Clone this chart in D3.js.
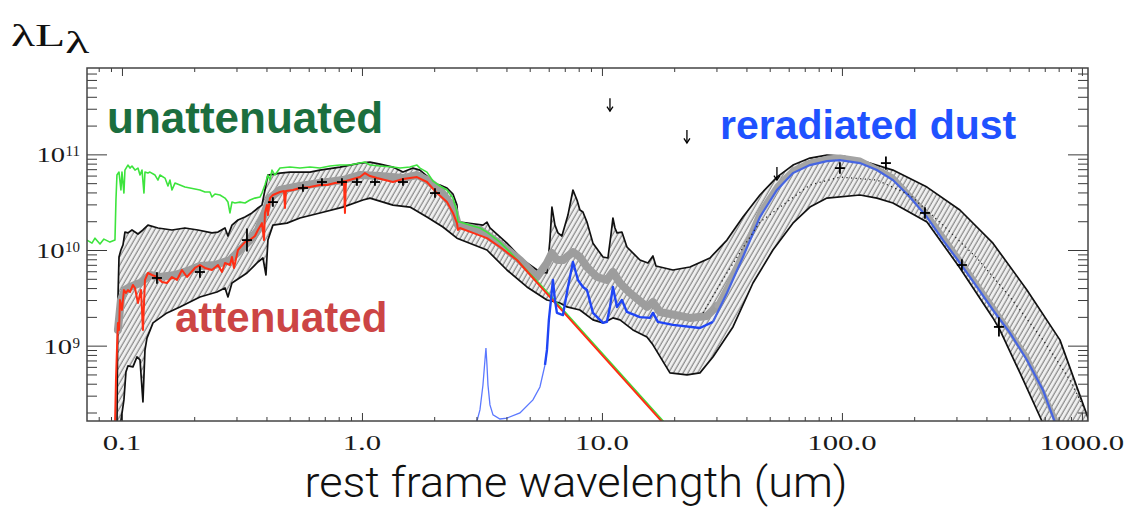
<!DOCTYPE html>
<html>
<head>
<meta charset="utf-8">
<script src="https://cdn.jsdelivr.net/npm/d3@7"></script>
<style>
  html, body { margin: 0; padding: 0; background: #fff; }
  svg { display: block; }
</style>
</head>
<body>
<svg id="chart" width="1125" height="509"></svg>
<script>
// ---- Spectral energy distribution: wavelength (um), lambda*L_lambda ----

// intrinsic (unattenuated) stellar spectrum
const unattenuated = [
  [0.0715,1.27e10],[0.0750,1.18e10],[0.0772,1.33e10],[0.0810,1.155e10],[0.0841,1.30e10],[0.0891,1.21e10],
  [0.0935,1.27e10],[0.0944,3.33e10],[0.0953,6.08e10],[0.0972,6.53e10],[0.0990,4.24e10],[0.1,6.53e10],
  [0.1019,3.94e10],[0.1029,6.85e10],[0.1059,7.73e10],[0.1080,7.19e10],[0.1101,7.55e10],[0.1133,6.85e10],
  [0.1166,7.19e10],[0.1189,6.08e10],[0.1212,6.85e10],[0.1235,3.94e10],[0.1247,6.53e10],[0.1283,6.38e10],
  [0.1308,6.53e10],[0.1373,6.08e10],[0.1413,5.39e10],[0.1440,6.08e10],[0.1511,5.65e10],[0.1555,4.67e10],
  [0.1585,5.39e10],[0.1616,4.24e10],[0.1663,5.01e10],[0.1744,4.78e10],[0.1830,4.55e10],[0.1920,4.45e10],
  [0.2014,4.34e10],[0.2113,4.24e10],[0.2217,4.04e10],[0.2326,4.04e10],[0.2371,3.58e10],[0.2441,3.85e10],
  [0.2560,3.76e10],[0.2687,3.49e10],[0.2765,3.17e10],[0.2818,2.44e10],[0.2873,3.17e10],[0.2957,3.10e10],
  [0.3102,3.17e10],[0.3255,3.10e10],[0.3415,3.33e10],[0.3581,3.49e10],[0.3758,3.58e10],[0.3831,3.94e10],
  [0.3942,4.78e10],[0.4057,6.08e10],[0.4137,5.39e10],[0.4217,6.85e10],[0.4340,6.08e10],[0.4553,7.19e10],
  [0.5012,7.37e10],[0.5516,7.19e10],[0.6072,7.37e10],[0.6683,7.19e10],[0.7356,7.55e10],[0.8096,7.73e10],
  [0.8913,7.73e10],[0.9810,8.11e10],[1.029,8.31e10],[1.080,7.73e10],[1.189,7.55e10],[1.346,7.37e10],
  [1.440,7.19e10],[1.585,7.37e10],[1.695,7.73e10],[1.745,7.19e10],[1.866,6.53e10],[1.976,5.26e10],
  [2.113,4.67e10],[2.261,4.24e10],[2.394,3.49e10],[2.488,2.50e10],[2.512,1.96e10],[2.561,1.96e10],
  [2.901,1.78e10],[3.102,1.70e10],[3.318,1.54e10],[3.758,1.21e10],[4.137,9.53e9],[4.553,7.31e9],
  [5.516,4.41e9],[25.61,6.09e7]
];

// attenuated stellar spectrum
const attenuated = [
  [0.0935,1.4e8],[0.0944,4.38e8],[0.0953,9.02e8],[0.0962,1.73e9],[0.0972,1.46e9],[0.0981,3.0e9],
  [0.1,2.36e9],[0.1019,3.82e9],[0.1039,3.55e9],[0.1059,3.82e9],[0.1080,3.64e9],[0.1111,4.31e9],
  [0.1133,4.01e9],[0.1166,2.79e9],[0.1200,3.82e9],[0.1223,1.46e9],[0.1247,4.86e9],[0.1283,5.75e9],
  [0.1334,5.48e9],[0.1399,5.22e9],[0.1468,4.63e9],[0.1540,4.52e9],[0.1616,5.22e9],[0.1695,4.86e9],
  [0.1778,6.18e9],[0.1866,5.22e9],[0.2014,6.49e9],[0.2113,6.97e9],[0.2217,6.49e9],[0.2371,6.18e9],
  [0.2512,6.97e9],[0.2610,5.89e9],[0.2687,7.31e9],[0.2818,6.97e9],[0.2873,8.45e9],[0.2929,6.49e9],
  [0.3043,1.0e10],[0.3255,1.21e10],[0.3415,1.27e10],[0.3581,1.40e10],[0.3686,1.62e10],[0.3831,1.91e10],
  [0.3907,1.27e10],[0.3942,2.44e10],[0.4019,2.95e10],[0.4057,2.32e10],[0.4137,3.49e10],[0.4256,3.76e10],
  [0.4553,4.04e10],[0.4732,4.14e10],[0.4777,2.75e10],[0.4823,4.14e10],[0.5158,4.24e10],[0.5516,4.45e10],
  [0.6072,4.55e10],[0.6683,4.78e10],[0.7148,4.78e10],[0.7720,5.01e10],[0.8332,5.14e10],[0.8414,5.26e10],
  [0.8494,2.44e10],[0.8577,5.26e10],[0.9173,5.52e10],[0.9810,5.79e10],[1.029,6.38e10],[1.080,5.93e10],
  [1.155,5.65e10],[1.346,5.14e10],[1.482,5.52e10],[1.585,5.65e10],[1.695,5.79e10],[1.866,5.14e10],
  [2.054,3.94e10],[2.261,3.17e10],[2.394,2.44e10],[2.488,1.91e10],[2.512,1.62e10],[2.561,1.70e10],
  [2.901,1.51e10],[3.318,1.33e10],[3.758,1.075e10],[4.423,7.86e9],[5.158,5.10e9],[5.516,4.21e9],
  [25.61,5.80e7]
];

// upper and lower bounds of the model range
const envelopeUpper = [
  [0.0953,1.4e8],[0.0962,3.0e9],[0.0972,8.45e9],[0.0990,1.0e10],[0.1010,1.13e10],[0.1029,1.54e10],
  [0.1059,1.51e10],[0.1101,1.62e10],[0.1166,1.47e10],[0.1223,1.62e10],[0.1283,1.82e10],[0.1413,1.70e10],
  [0.1616,1.62e10],[0.1830,1.70e10],[0.2073,1.62e10],[0.2371,1.51e10],[0.2512,1.54e10],[0.2687,1.70e10],
  [0.2765,1.40e10],[0.2873,1.82e10],[0.3043,2.06e10],[0.3255,2.21e10],[0.3481,2.44e10],[0.3686,2.75e10],
  [0.3831,2.95e10],[0.3942,4.24e10],[0.4057,6.08e10],[0.4553,6.38e10],[0.5012,6.53e10],[0.6072,6.53e10],
  [0.6683,6.85e10],[0.8096,7.37e10],[0.9810,8.11e10],[1.080,8.31e10],[1.189,7.92e10],[1.346,7.37e10],
  [1.482,6.53e10],[1.631,7.19e10],[1.745,6.85e10],[1.866,5.93e10],[1.976,5.01e10],[2.113,4.78e10],
  [2.261,4.45e10],[2.394,3.85e10],[2.488,2.95e10],[2.512,2.06e10],[2.561,1.96e10],[3.193,1.82e10],
  [3.318,1.96e10],[3.415,1.70e10],[4.019,1.18e10],[4.686,7.86e9],[5.516,5.89e9],[5.900,5.75e9],
  [6.072,1.27e10],[6.190,2.81e10],[6.37,1.82e10],[6.556,1.51e10],[6.81,1.40e10],[7.217,2.32e10],
  [7.572,4.24e10],[7.87,3.33e10],[8.096,2.62e10],[8.332,2.50e10],[8.660,1.96e10],[9.173,1.18e10],
  [10.10,8.45e9],[10.59,8.25e9],[10.90,1.43e10],[11.11,2.16e10],[11.33,1.70e10],[11.55,1.51e10],
  [12.11,1.54e10],[12.71,1.075e10],[14.40,7.86e9],[15.55,7.31e9],[16.31,8.66e9],[16.79,6.81e9],
  [19.76,6.18e9],[23.26,6.64e9],[28.18,8.25e9],[33.18,1.27e10],[38.68,2.21e10],[45.53,3.76e10],
  [53.61,5.79e10],[62.49,7.73e10],[73.56,9.15e10],[86.60,9.83e10],[101.0,9.60e10],[118.9,8.72e10],
  [163.1,6.85e10],[226.1,4.55e10],[310.2,2.62e10],[425.8,1.18e10],[590.0,3.82e9],[809.6,1.15e9],
  [1049,1.89e8],[1130,1.1e8]
];
const envelopeLower = [
  [0.0981,1.4e8],[0.1019,2.71e8],[0.1039,5.31e8],[0.1059,6.14e8],[0.1111,5.99e8],[0.1155,7.62e8],
  [0.1189,7.09e8],[0.1223,2.58e8],[0.1247,9.0e8],[0.1271,1.20e9],[0.1347,1.73e9],[0.1540,2.20e9],
  [0.1744,2.54e9],[0.2113,3.23e9],[0.2488,3.64e9],[0.2687,4.01e9],[0.2765,3.23e9],[0.2873,4.52e9],
  [0.3318,5.75e9],[0.3686,7.49e9],[0.3868,8.25e9],[0.3981,5.48e9],[0.4057,1.27e10],[0.4256,1.82e10],
  [0.4870,1.91e10],[0.5516,2.16e10],[0.6683,2.44e10],[0.8332,2.81e10],[1.0097,3.33e10],[1.080,3.49e10],
  [1.346,2.95e10],[1.585,2.81e10],[1.866,2.21e10],[2.175,1.74e10],[2.488,1.33e10],[3.318,1.0e10],
  [4.019,6.18e9],[4.870,4.11e9],[5.900,3.0e9],[6.683,2.79e9],[7.149,2.54e9],[8.096,2.36e9],
  [9.173,1.86e9],[10.10,1.73e9],[11.11,1.95e9],[11.89,1.86e9],[13.46,1.46e9],[15.40,1.23e9],
  [16.31,1.02e9],[19.20,5.19e8],[22.61,4.94e8],[25.61,5.19e8],[29.00,7.62e8],[35.15,1.57e9],
  [42.59,4.52e9],[51.58,1.0e10],[62.49,1.91e10],[73.56,2.81e10],[86.60,3.49e10],[118.9,3.76e10],
  [139.9,3.49e10],[163.1,3.10e10],[226.1,1.96e10],[310.2,6.49e9],[425.8,1.95e9],[455,1.46e9],
  [552,5.19e8],[681.3,1.63e8],[735.6,1.03e8]
];

// best-fit total model (broad grey curve)
const bestFit = [
  [0.0962,1.46e9],[0.0990,3.0e9],[0.1029,3.82e9],[0.1080,4.11e9],[0.1189,4.52e9],[0.1308,5.48e9],
  [0.1440,5.22e9],[0.1663,5.48e9],[0.1920,6.18e9],[0.2113,6.81e9],[0.2441,6.97e9],[0.2818,7.86e9],
  [0.3102,1.0e10],[0.3415,1.27e10],[0.3686,1.62e10],[0.3942,2.50e10],[0.4137,3.49e10],[0.4553,4.24e10],
  [0.5516,4.67e10],[0.6683,5.01e10],[0.8332,5.39e10],[0.9810,6.08e10],[1.189,5.93e10],[1.482,5.65e10],
  [1.695,6.08e10],[1.866,5.39e10],[2.113,4.24e10],[2.394,2.81e10],[2.512,1.82e10],[3.102,1.62e10],
  [3.758,1.155e10],[4.553,7.86e9],[5.36,5.22e9],[5.900,7.31e9],[6.190,9.30e9],[6.493,7.86e9],
  [6.878,7.86e9],[7.572,9.53e9],[8.096,8.45e9],[8.660,6.64e9],[9.53,5.22e9],[10.49,4.86e9],
  [11.11,5.89e9],[11.89,4.52e9],[13.09,3.55e9],[15.40,2.54e9],[16.31,2.86e9],[17.45,2.25e9],
  [23.26,1.95e9],[27.38,2.04e9],[30.15,2.60e9],[33.18,4.11e9],[38.68,9.53e9],[45.53,2.50e10],
  [53.61,4.67e10],[62.49,6.85e10],[73.56,8.31e10],[86.60,9.15e10],[98.10,9.37e10],[118.9,8.72e10],
  [163.1,5.79e10],[226.1,2.38e10],[310.2,7.86e9],[425.8,2.54e9],[590,7.62e8],[757.2,1.93e8],[849,1.03e8]
];

// dust emission component
const reradiatedDust = [
  [2.93,1.03e8],[3.015,1.63e8],[3.102,2.13e8],[3.193,3.88e8],[3.255,7.09e8],[3.286,9.46e8],
  [3.318,6.29e8],[3.350,3.88e8],[3.415,2.40e8],[3.516,1.89e8],[3.758,1.71e8],[4.019,1.75e8],
  [4.553,1.98e8],[5.158,2.71e8],[5.516,3.70e8],[5.79,6.29e8],[5.900,9.02e8],[6.01,1.86e9],
  [6.13,3.0e9],[6.247,4.86e9],[6.37,3.0e9],[6.493,2.20e9],[6.878,2.09e9],[7.217,4.11e9],
  [7.572,7.49e9],[7.943,4.86e9],[8.332,4.11e9],[8.660,3.82e9],[9.173,2.20e9],[10.10,1.73e9],
  [10.49,1.77e9],[10.80,2.54e9],[11.11,4.11e9],[11.55,2.54e9],[12.11,3.0e9],[12.71,2.25e9],
  [14.40,1.99e9],[15.85,1.95e9],[16.31,2.20e9],[17.11,1.77e9],[19.76,1.65e9],[25.61,1.53e9],
  [29.00,1.77e9],[33.18,3.55e9],[38.68,8.45e9],[45.53,2.21e10],[53.61,4.24e10],[62.49,6.38e10],
  [73.56,7.73e10],[86.60,8.51e10],[98.10,8.72e10],[118.9,8.11e10],[139.9,6.85e10],[163.1,5.39e10],
  [192.0,3.58e10],[226.1,2.21e10],[263.6,1.27e10],[310.2,7.31e9],[365.2,4.11e9],[425.8,2.36e9],
  [501.2,1.36e9],[590.0,7.09e8],[687.8,3.44e8],[757.2,1.80e8],[809.6,1.17e8]
];

// median far-infrared model (dotted)
const medianDust = [
  [26.36,2.20e9],[33.18,5.75e9],[39.4,1.13e10],[45.53,1.96e10],[55.16,2.81e10],[73.56,4.78e10],
  [98.10,5.79e10],[139.9,5.39e10],[192.0,3.76e10],[263.6,1.82e10],[365.2,8.25e9],[501.2,3.23e9],
  [687.8,1.15e9],[891,4.38e8],[1029,2.13e8]
];

// photometry: wavelength, value, error (dex)
const photLambda = [0.1399,0.2113,0.3318,0.4256,0.5677,0.6813,0.8254,0.9532,1.133,1.482,2.015,98.1,152.5,221.8,316.2,451];
const photValue  = [5.10e9,5.89e9,1.27e10,3.17e10,4.45e10,5.14e10,5.14e10,5.14e10,5.14e10,5.14e10,3.94e10,7.19e10,8.11e10,2.44e10,6.97e9,1.57e9];
const photError  = [0.06,0.06,0.12,0.05,0.04,0.04,0.04,0.04,0.04,0.04,0.05,0.06,0.07,0.06,0.06,0.10];

// upper limits
const limitLambda = [10.8,22.6,53.6];
const limitValue  = [3.87e11,1.8e11,7.36e10];

// axis ticks
const xTickValues = [0.1,1,10,100,1000];
const xTickLabels = ['0.1','1.0','10.0','100.0','1000.0'];
const yTickValues = [1e9,1e10,1e11];
const yTickExponents = ['9','10','11'];

// ---- layout ----
const frame = {left: 87, right: 1088, top: 68, bottom: 421};
const x = d3.scaleLog().domain([0.0715, 1060]).range([frame.left, frame.right]);
const y = d3.scaleLog().domain([1.63e8, 8.0e11]).range([frame.bottom, frame.top]);

const svg = d3.select('#chart');
const defs = svg.append('defs');
defs.append('clipPath').attr('id', 'plotClip').append('rect')
  .attr('x', frame.left).attr('y', frame.top)
  .attr('width', frame.right - frame.left).attr('height', frame.bottom - frame.top);

const hatch = defs.append('pattern').attr('id', 'hatch')
  .attr('patternUnits', 'userSpaceOnUse').attr('width', 4.2).attr('height', 4.2)
  .attr('patternTransform', 'rotate(30)');
hatch.append('rect').attr('width', 4.2).attr('height', 4.2).attr('fill', '#efefef');
hatch.append('line').attr('x1', 1).attr('y1', 0).attr('x2', 1).attr('y2', 4.2)
  .attr('stroke', '#666').attr('stroke-width', 0.9);

const line = d3.line().x(d => x(d[0])).y(d => y(d[1]));
const plot = svg.append('g').attr('clip-path', 'url(#plotClip)');

// hatched model range
const band = envelopeUpper.concat(envelopeLower.slice().reverse());
plot.append('path').attr('d', line(band) + 'Z').attr('fill', 'url(#hatch)');
[envelopeUpper, envelopeLower].forEach(env => {
  plot.append('path').attr('d', line(env)).attr('fill', 'none')
    .attr('stroke', '#111').attr('stroke-width', 1.7).attr('stroke-linejoin', 'round');
});

// best fit: broad through the stellar and PAH range, narrow under the far-IR dust curve
plot.append('path').attr('d', line(bestFit.filter(d => d[0] <= 31))).attr('fill', 'none')
  .attr('stroke', '#9d9d9d').attr('stroke-width', 8)
  .attr('stroke-linejoin', 'round').attr('stroke-linecap', 'round');
plot.append('path').attr('d', line(bestFit.filter(d => d[0] >= 30))).attr('fill', 'none')
  .attr('stroke', '#a4a4a4').attr('stroke-width', 5)
  .attr('stroke-linejoin', 'round').attr('stroke-linecap', 'round');

// stellar components
plot.append('path').attr('d', line(unattenuated)).attr('fill', 'none')
  .attr('stroke', '#3de43d').attr('stroke-width', 1.6).attr('stroke-linejoin', 'round');
plot.append('path').attr('d', line(attenuated)).attr('fill', 'none')
  .attr('stroke', '#ff2e14').attr('stroke-width', 2).attr('stroke-linejoin', 'round');

// dust: faint near-IR rise, then the strong PAH / far-IR part
plot.append('path').attr('d', line(reradiatedDust.filter(d => d[0] <= 5.9))).attr('fill', 'none')
  .attr('stroke', '#5b78ff').attr('stroke-width', 1.3);
plot.append('path').attr('d', line(reradiatedDust.filter(d => d[0] >= 5.79 && d[0] <= 30))).attr('fill', 'none')
  .attr('stroke', '#1f45f5').attr('stroke-width', 2.4).attr('stroke-linejoin', 'round');
plot.append('path').attr('d', line(reradiatedDust.filter(d => d[0] >= 29))).attr('fill', 'none')
  .attr('stroke', '#4665e2').attr('stroke-width', 2.2);

plot.append('path').attr('d', line(medianDust)).attr('fill', 'none')
  .attr('stroke', '#222').attr('stroke-width', 1.3).attr('stroke-dasharray', '1.2,3.4');

// photometry crosses
const marks = svg.append('g').attr('stroke', '#000').attr('stroke-width', 1.8);
photLambda.forEach((l, i) => {
  const cx = x(l), cy = y(photValue[i]);
  const f = Math.pow(10, photError[i]);
  marks.append('line').attr('x1', cx).attr('x2', cx)
    .attr('y1', y(photValue[i] * f)).attr('y2', y(photValue[i] / f));
  marks.append('line').attr('x1', cx - 5).attr('x2', cx + 5).attr('y1', cy).attr('y2', cy);
});
// upper-limit arrows
limitLambda.forEach((l, i) => {
  const cx = x(l), top = y(limitValue[i]), tip = top + 13;
  marks.append('line').attr('x1', cx).attr('x2', cx).attr('y1', top).attr('y2', tip).attr('stroke-width', 1.3);
  marks.append('path').attr('d', `M${cx - 3},${tip - 4.5}L${cx},${tip}L${cx + 3},${tip - 4.5}`)
    .attr('fill', 'none').attr('stroke-width', 1.3);
});

// ---- axes ----
const xMinor = [], yMinor = [];
for (let e = -2; e <= 3; e++) for (let m = 2; m <= 9; m++) {
  const v = m * Math.pow(10, e);
  if (v > 0.0715 && v < 1060) xMinor.push(v);
}
for (let e = 8; e <= 11; e++) for (let m = 2; m <= 9; m++) {
  const v = m * Math.pow(10, e);
  if (v > 1.63e8 && v < 8.0e11) yMinor.push(v);
}
const axisColor = '#3a3a3a';
function ticks(axis, transform) {
  svg.append('g').attr('transform', transform).attr('color', axisColor)
    .call(axis.tickFormat('').tickSizeOuter(0))
    .call(g => g.select('.domain').remove())
    .call(g => g.selectAll('line').attr('stroke-width', 1));
}
ticks(d3.axisBottom(x).tickValues(xTickValues).tickSizeInner(-8), `translate(0,${frame.bottom})`);
ticks(d3.axisBottom(x).tickValues(xMinor).tickSizeInner(-4), `translate(0,${frame.bottom})`);
ticks(d3.axisTop(x).tickValues(xTickValues).tickSizeInner(-8), `translate(0,${frame.top})`);
ticks(d3.axisTop(x).tickValues(xMinor).tickSizeInner(-4), `translate(0,${frame.top})`);
ticks(d3.axisLeft(y).tickValues(yTickValues).tickSizeInner(-20), `translate(${frame.left},0)`);
ticks(d3.axisLeft(y).tickValues(yMinor).tickSizeInner(-10), `translate(${frame.left},0)`);
ticks(d3.axisRight(y).tickValues(yTickValues).tickSizeInner(-20), `translate(${frame.right},0)`);
ticks(d3.axisRight(y).tickValues(yMinor).tickSizeInner(-10), `translate(${frame.right},0)`);

svg.append('rect').attr('x', frame.left).attr('y', frame.top)
  .attr('width', frame.right - frame.left).attr('height', frame.bottom - frame.top)
  .attr('fill', 'none').attr('stroke', '#444').attr('stroke-width', 1.5);

// tick labels
const serif = '"Liberation Serif", "Times New Roman", serif';
xTickValues.forEach((v, i) => {
  svg.append('text').attr('transform', `translate(${x(v)},450) scale(1.4,1)`)
    .attr('text-anchor', 'middle').attr('font-family', serif).attr('font-size', 22)
    .attr('fill', '#1a1a1a').text(xTickLabels[i]);
});
yTickValues.forEach((v, i) => {
  const ty = y(v);
  const sup = svg.append('text').attr('x', 80).attr('y', ty + 2)
    .attr('text-anchor', 'end').attr('font-family', serif).attr('font-size', 15)
    .attr('fill', '#1a1a1a').text(yTickExponents[i]);
  const w = sup.node().getComputedTextLength();
  svg.append('text').attr('transform', `translate(${80 - w - 0.5},${ty + 8}) scale(1.3,1)`)
    .attr('text-anchor', 'end').attr('font-family', serif).attr('font-size', 22)
    .attr('fill', '#1a1a1a').text('10');
});

// axis titles
const yTitle = svg.append('text').attr('transform', 'translate(11,46) scale(1.55,1)')
  .attr('font-family', serif).attr('font-size', 32).attr('fill', '#111');
yTitle.append('tspan').text('λL');
yTitle.append('tspan').attr('dy', 7).text('λ');

svg.append('text').attr('x', 576).attr('y', 497).attr('text-anchor', 'middle')
  .attr('font-family', 'Roboto, "Liberation Sans", sans-serif').attr('font-weight', 300)
  .attr('font-size', 42).attr('fill', '#111')
  .attr('textLength', 543).attr('lengthAdjust', 'spacingAndGlyphs')
  .text('rest frame wavelength (um)');

// component labels
const bold = '"Liberation Sans", Arial, sans-serif';
svg.append('text').attr('x', 107).attr('y', 133).attr('font-family', bold).attr('font-weight', 700)
  .attr('font-size', 44).attr('fill', '#1b6e3e').text('unattenuated');
svg.append('text').attr('x', 175).attr('y', 332).attr('font-family', bold).attr('font-weight', 700)
  .attr('font-size', 42).attr('fill', '#cc4545').text('attenuated');
svg.append('text').attr('x', 720).attr('y', 139).attr('font-family', bold).attr('font-weight', 700)
  .attr('font-size', 41).attr('fill', '#1f52ff').text('reradiated dust');
</script>
</body>
</html>
